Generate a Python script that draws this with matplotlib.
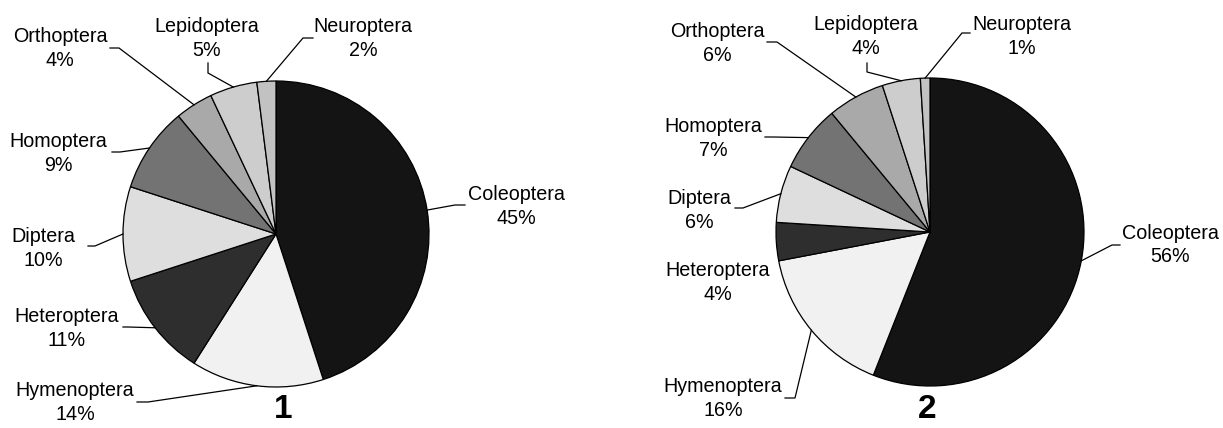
import numpy as np
import matplotlib
matplotlib.use("Agg")
import matplotlib.pyplot as plt

# data
orders = ["Coleoptera", "Hymenoptera", "Heteroptera", "Diptera",
          "Homoptera", "Orthoptera", "Lepidoptera", "Neuroptera"]
share_1 = [45, 14, 11, 10, 9, 4, 5, 2]
share_2 = [56, 16, 4, 6, 7, 6, 4, 1]
panel_titles = ["1", "2"]

# grey fills, one per order
fills = ["#141414", "#f1f1f1", "#2e2e2e", "#dedede",
         "#737373", "#a9a9a9", "#cdcdcd", "#c2c2c2"]

W, H = 1223, 428
plt.rcParams["font.family"] = ["Liberation Sans", "DejaVu Sans"]

fig = plt.figure(figsize=(W / 100, H / 100), dpi=100)
ax = fig.add_axes([0, 0, 1, 1])

# layout in pixel coords (y from top): pie centre/radius, label centres,
# leader start + elbow (None = no leader)
pies = [
    dict(values=share_1, cx=276, cy=234, r=153, title_xy=(283, 409),
         text_xy=[(516, 206), (75, 402), (67, 328), (43, 248),
                  (58, 153), (60, 48), (207, 38), (363, 38)],
         leader=[((465, 205), (455, 205)), ((137, 402), (148, 402)),
                 ((123, 327), (128, 327)), ((88, 246), (95, 246)),
                 ((112, 152), (120, 152)), ((110, 48), (119, 48)),
                 ((208, 63), (208, 73)), ((313, 38), (303, 38))]),
    dict(values=share_2, cx=930, cy=232, r=154, title_xy=(927, 410),
         text_xy=[(1170, 245), (723, 399), (718, 282), (699, 210),
                  (713, 138), (717, 43), (866, 36), (1022, 36)],
         leader=[((1120, 245), (1112, 245)), ((785, 398), (795, 398)),
                 None, ((735, 208), (743, 208)),
                 ((765, 137), (773, 137)), ((767, 42), (777, 42)),
                 ((867, 63), (867, 72)), ((970, 33), (962, 33))]),
]

for p, title in zip(pies, panel_titles):
    cx, cy, r = p["cx"], H - p["cy"], p["r"]
    wedges, _ = ax.pie(p["values"], colors=fills, startangle=90, counterclock=False,
                       center=(cx, cy), radius=r, frame=True,
                       wedgeprops=dict(edgecolor="black", linewidth=0.9))
    for i, (w, name, val) in enumerate(zip(wedges, orders, p["values"])):
        tx, ty = p["text_xy"][i]
        ax.text(tx, H - ty + 12, name, ha="center", va="center", fontsize=14.2)
        ax.text(tx, H - ty - 12, f"{val}%", ha="center", va="center", fontsize=14.2)
        if p["leader"][i] is None:
            continue
        mid = np.deg2rad((w.theta1 + w.theta2) / 2)
        ex, ey = cx + r * np.cos(mid), cy + r * np.sin(mid)
        (sx, sy), (bx, by) = p["leader"][i]
        ax.plot([sx, bx, ex], [H - sy, H - by, ey], color="black", lw=0.9,
                solid_joinstyle="miter")
    tx, ty = p["title_xy"]
    ax.text(tx, H - ty, title, ha="center", va="center", fontsize=24, fontweight="bold")

ax.set_xlim(0, W)
ax.set_ylim(0, H)
ax.set_aspect("equal")
ax.axis("off")

fig.savefig("out.png", dpi=100, facecolor="white")
